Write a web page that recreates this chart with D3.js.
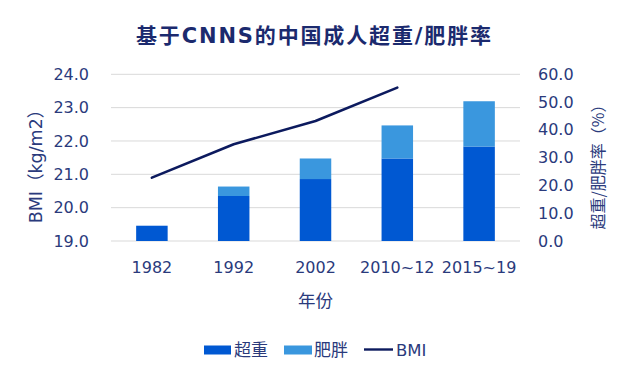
<!DOCTYPE html>
<html><head><meta charset="utf-8">
<script src="https://cdn.jsdelivr.net/npm/d3@7/dist/d3.min.js"></script>
<style>body{margin:0;background:#fff;} text{font-family:"DejaVu Sans","Noto Sans CJK SC",sans-serif;}</style>
</head><body>
<svg id="c" width="637" height="381"></svg>
<script>
const categories = ["1982","1992","2002","2010~12","2015~19"];
const overweight = [5.5, 16.2, 22.3, 29.7, 34.0];
const obesity = [0, 3.4, 7.4, 11.9, 16.3];
const bmi = [20.9, 21.9, 22.6, 23.6, null];
const leftTicks = [19,20,21,22,23,24];
const rightTicks = [0,10,20,30,40,50,60];

const textColor = "#2a3a7c";
const svg = d3.select("#c");
const x0 = 111, x1 = 520, yTop = 74.3, yBot = 241;
const x = d3.scaleBand().domain(categories).range([x0,x1]).paddingInner(0.615).paddingOuter(0.3075);
const yL = d3.scaleLinear().domain([19,24]).range([yBot,yTop]);
const yR = d3.scaleLinear().domain([0,60]).range([yBot,yTop]);

// grid
svg.append("g").selectAll("line").data(leftTicks).join("line")
  .attr("x1",x0).attr("x2",x1).attr("y1",d=>yL(d)).attr("y2",d=>yL(d))
  .attr("stroke","#d9d9d9").attr("stroke-width",1);

// bars
const g = svg.append("g");
categories.forEach((c,i)=>{
  g.append("rect").attr("x",x(c)).attr("width",x.bandwidth())
   .attr("y",yR(overweight[i])).attr("height",yR(0)-yR(overweight[i]))
   .attr("fill","#0058d2");
  if (obesity[i]>0) g.append("rect").attr("x",x(c)).attr("width",x.bandwidth())
   .attr("y",yR(overweight[i]+obesity[i])).attr("height",yR(overweight[i])-yR(overweight[i]+obesity[i]))
   .attr("fill","#3a97de");
});

// line
const pts = categories.map((c,i)=>[x(c)+x.bandwidth()/2, bmi[i]]).filter(p=>p[1]!=null);
svg.append("path").datum(pts)
  .attr("d", d3.line().x(d=>d[0]).y(d=>yL(d[1])))
  .attr("fill","none").attr("stroke","#0c1a5e").attr("stroke-width",2.6).attr("stroke-linecap","round").attr("stroke-linejoin","round");

// axes
const axL = svg.append("g").attr("transform",`translate(${x0-22},0)`)
  .call(d3.axisLeft(yL).tickValues(leftTicks).tickFormat(d3.format(".1f")).tickSize(0).tickPadding(0));
const axR = svg.append("g").attr("transform",`translate(${x1+18},0)`)
  .call(d3.axisRight(yR).tickValues(rightTicks).tickFormat(d3.format(".1f")).tickSize(0).tickPadding(0));
const axB = svg.append("g").attr("transform",`translate(0,${yBot})`)
  .call(d3.axisBottom(x).tickSize(0).tickPadding(21));
[axL,axR,axB].forEach(a=>{
  a.select(".domain").remove();
  a.selectAll("text").attr("fill",textColor).style("font-size","16px").style("font-family",'"DejaVu Sans",sans-serif');
});

// titles
svg.append("text").attr("x",313.5).attr("y",43).attr("text-anchor","middle")
  .attr("fill","#1b2a6e").style("font-size","21px").style("font-weight","bold")
  .attr("textLength",355).attr("lengthAdjust","spacing").text("基于CNNS的中国成人超重/肥胖率");
svg.append("text").attr("transform","translate(41.5,162) rotate(-90)").attr("text-anchor","middle")
  .attr("fill",textColor).style("font-size","17.5px").text("BMI（kg/m2）");
svg.append("text").attr("transform","translate(604,163) rotate(-90)").attr("text-anchor","middle")
  .attr("fill",textColor).style("font-size","16px").style("font-family",'"Noto Sans CJK SC",sans-serif').text("超重/肥胖率（%）");
svg.append("text").attr("x",315.5).attr("y",307).attr("text-anchor","middle")
  .attr("fill",textColor).style("font-size","17.5px").text("年份");

// legend
const lg = svg.append("g");
lg.append("rect").attr("x",204).attr("y",345.5).attr("width",27).attr("height",9).attr("fill","#0058d2");
lg.append("text").attr("x",234).attr("y",356).attr("fill",textColor).style("font-size","17px").text("超重");
lg.append("rect").attr("x",284).attr("y",345.5).attr("width",28).attr("height",9).attr("fill","#3a97de");
lg.append("text").attr("x",314).attr("y",356).attr("fill",textColor).style("font-size","17px").text("肥胖");
lg.append("line").attr("x1",364).attr("x2",393).attr("y1",349.5).attr("y2",349.5).attr("stroke","#0c1a5e").attr("stroke-width",2.4);
lg.append("text").attr("x",396).attr("y",355.5).attr("fill",textColor).style("font-size","16.5px").text("BMI");
</script>
</body></html>
